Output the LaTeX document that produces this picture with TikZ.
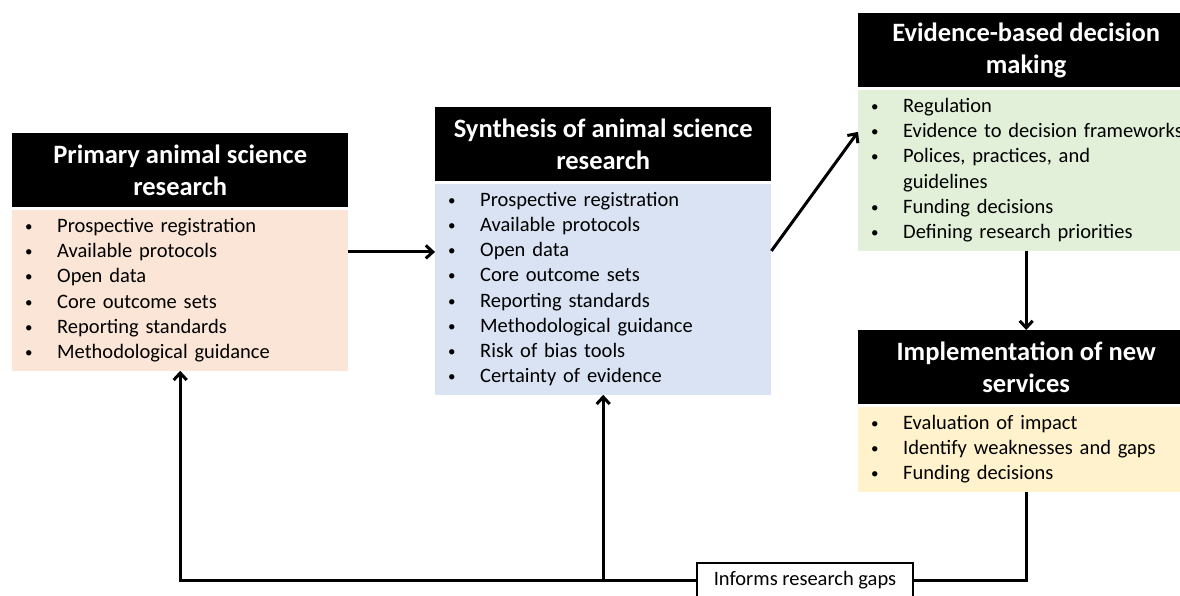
\documentclass[tikz,border=0pt]{standalone}
\usepackage{fontspec}
\setmainfont{Carlito}
\usepackage{xcolor}
\usetikzlibrary{positioning,arrows.meta,calc}

\definecolor{peach}{HTML}{FBE5D6}
\definecolor{paleblue}{HTML}{DAE3F3}
\definecolor{palegreen}{HTML}{E2F0D9}
\definecolor{paleyellow}{HTML}{FFF2CC}
\newcommand{\itm}[1]{\mbox{\makebox[30pt][l]{\hspace{-2pt}\raisebox{1pt}{\fontsize{15}{15}\selectfont\textbullet}}#1}}

\begin{document}
\begin{tikzpicture}[x=1pt, y=-1pt,
  head/.style={rectangle, fill=black, text=white, minimum width=336pt, minimum height=74pt,
               inner sep=0pt, align=center, font=\fontsize{26.5}{32}\selectfont\bfseries},
  body/.style={rectangle, minimum width=336pt, inner xsep=15pt, inner ysep=0pt, text width=306pt,
               align=left, font=\fontsize{20.5}{25.2}\selectfont},
  gapbox/.style={rectangle, draw, fill=white, line width=2.5pt, minimum width=216pt,
                 minimum height=34pt, font=\fontsize{20.5}{22}\selectfont},
  arr/.style={-{Straight Barb[length=7pt,width=13pt]}, line width=3pt},
  line/.style={line width=3pt}
]
\useasboundingbox (0,0) rectangle (1180,595);
\clip (0,0) rectangle (1180,595);

% boxes
\node[head, anchor=north west] (hPrim) at (12,133) {Primary animal science\\research};
\node[body, fill=peach, below=2pt of hPrim, minimum height=161pt] (bPrim)
  {\itm{Prospective registration}\\\itm{Available protocols}\\\itm{Open data}\\
   \itm{Core outcome sets}\\\itm{Reporting standards}\\\itm{Methodological guidance}};

\node[head, anchor=north west] (hSyn) at (435,107) {Synthesis of animal science\\research};
\node[body, fill=paleblue, below=2pt of hSyn, minimum height=211pt] (bSyn)
  {\itm{Prospective registration}\\\itm{Available protocols}\\\itm{Open data}\\
   \itm{Core outcome sets}\\\itm{Reporting standards}\\\itm{Methodological guidance}\\
   \itm{Risk of bias tools}\\\itm{Certainty of evidence}};

\node[head, anchor=north west] (hEvid) at (858,13) {Evidence-based decision\\making};
\node[body, fill=palegreen, below=2pt of hEvid, minimum height=161pt] (bEvid)
  {\itm{Regulation}\\\itm{Evidence to decision frameworks}\\\itm{Polices, practices, and}\\
   \hspace*{30pt}guidelines\\\itm{Funding decisions}\\\itm{Defining research priorities}};

\node[head, anchor=north west] (hImpl) at (858,330) {Implementation of new\\services};
\node[body, fill=paleyellow, below=2pt of hImpl, minimum height=85pt] (bImpl)
  {\itm{Evaluation of impact}\\\itm{Identify weaknesses and gaps}\\\itm{Funding decisions}};

\node[gapbox] (gaps) at (805,580) {Informs research gaps};

% forward arrows
\coordinate (pMid) at ($(hPrim.north east)!0.5!(bPrim.south east)$);
\coordinate (sMid) at ($(hSyn.north east)!0.5!(bSyn.south east)$);
\coordinate (eMid) at ($(hEvid.north west)!0.5!(bEvid.south west)$);
\draw[arr] (pMid) -- (bSyn.west |- pMid);
\draw[arr] (sMid) -- (eMid);
\draw[arr] (bEvid.south) -- (hImpl.north);

% feedback loop
\draw[line] (bImpl.south) |- (gaps.east);
\draw[arr] (gaps.west) -| (bPrim.south);
\draw[arr] (bSyn.south |- gaps.west) -- (bSyn.south);
\end{tikzpicture}
\end{document}
